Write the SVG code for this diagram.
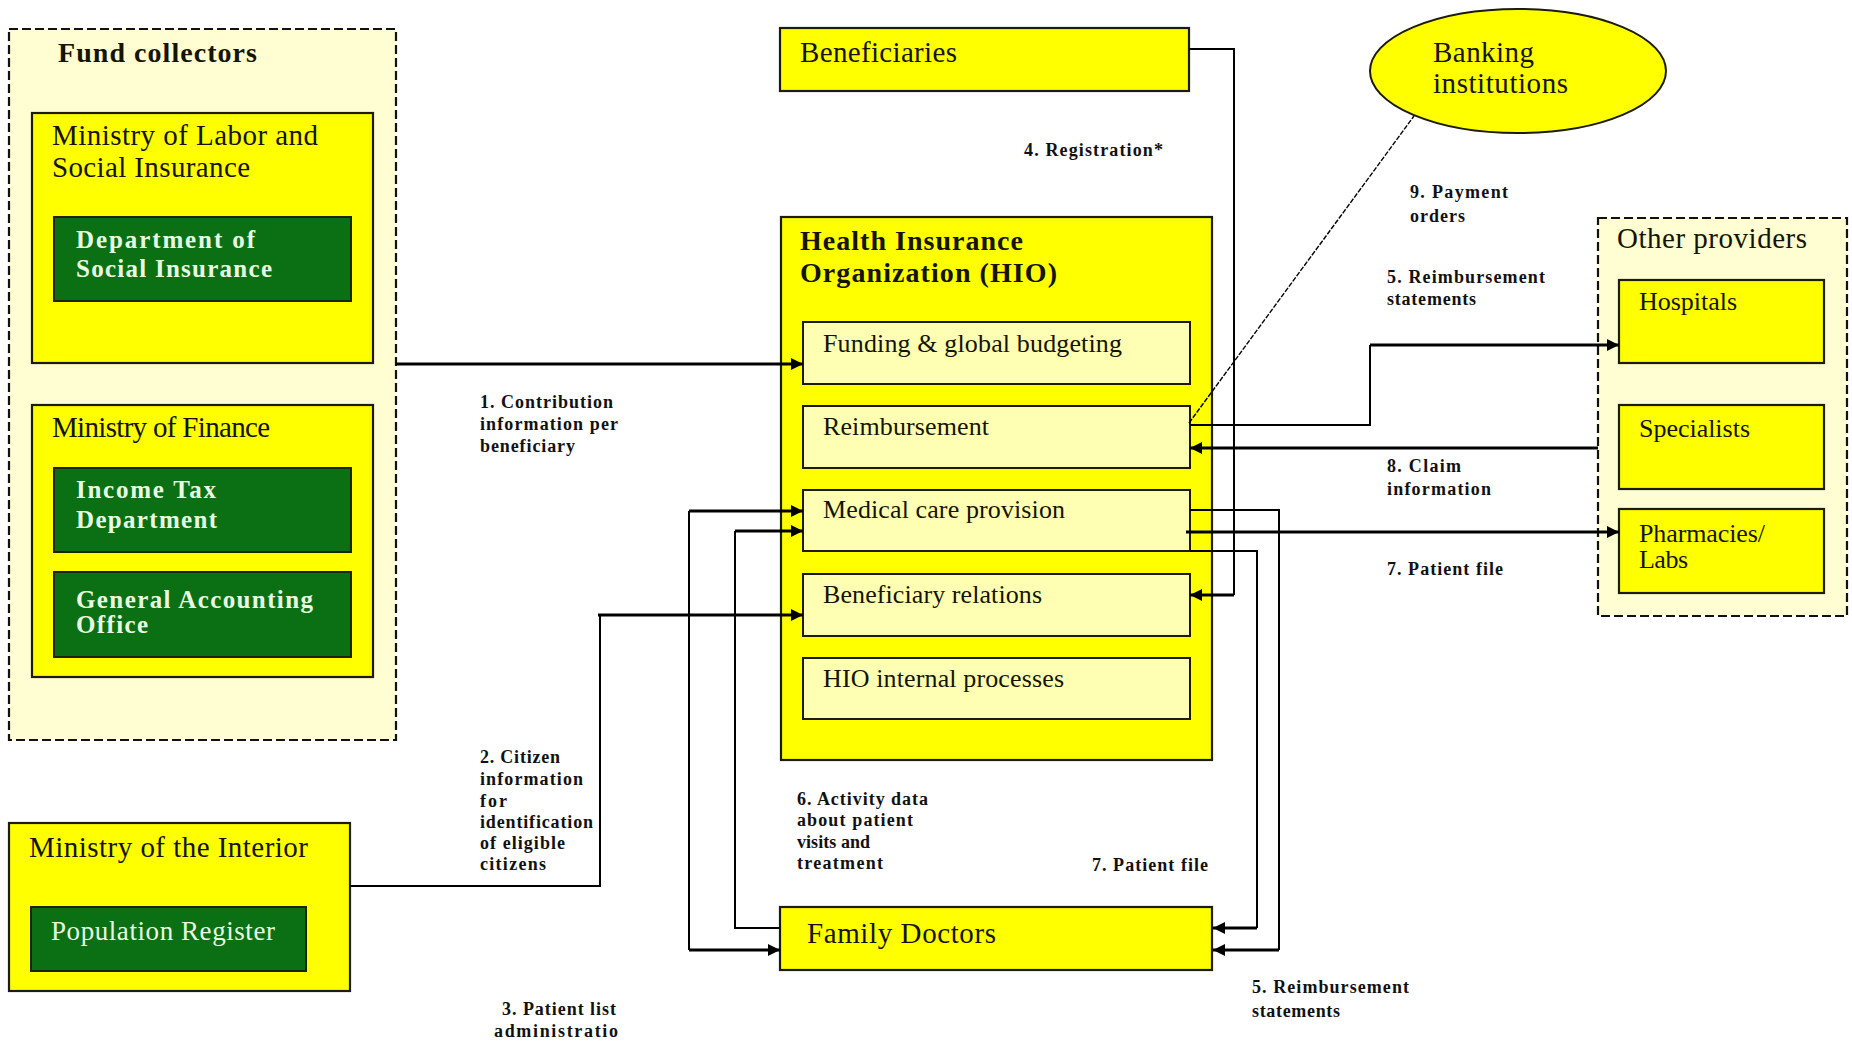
<svg xmlns="http://www.w3.org/2000/svg" width="1852" height="1041" viewBox="0 0 1852 1041">
<defs>
<marker id="ah" viewBox="0 0 10 10" refX="10" refY="5" markerUnits="userSpaceOnUse" markerWidth="14" markerHeight="12" orient="auto-start-reverse">
<path d="M0,0 L10,5 L0,10 z" fill="#000"/>
</marker>
<style>
text{font-family:"Liberation Serif","Times New Roman",serif;fill:#141400}
.t{font-size:29px}
.h{font-size:28px;font-weight:bold}
.g{font-size:25px;font-weight:bold;fill:#e8fce2}
.gn{font-size:27px;fill:#e8fce2}
.s{font-size:26px}
.l{font-size:18px;font-weight:bold;fill:#111}
.dash{fill:#fffdd1;stroke:#111;stroke-width:2.2;stroke-dasharray:9 4}
.y{fill:#ffff00;stroke:#1b1b10;stroke-width:2.2}
.gr{fill:#0b6f14;stroke:#1b2410;stroke-width:2}
.sub{fill:#ffffb4;stroke:#1b1b10;stroke-width:2}
.c{fill:none;stroke:#000;stroke-width:2}
.k{fill:none;stroke:#000;stroke-width:3.2}
.d{fill:none;stroke:#000;stroke-width:1.4;stroke-dasharray:5 1.5}
</style>
</defs>
<rect width="1852" height="1041" fill="#fff"/>

<g id="fund-collectors">
<rect class="dash" x="9" y="29" width="387" height="711"/>
<text class="h" x="58" y="62" textLength="199">Fund collectors</text>
</g>
<g id="ministry-labor">
<rect class="y" x="32" y="113" width="341" height="250"/>
<text class="t" x="52" y="145" textLength="266">Ministry of Labor and</text>
<text class="t" x="52" y="177" textLength="198">Social Insurance</text>
</g>
<g id="dept-social-insurance">
<rect class="gr" x="54" y="217" width="297" height="84"/>
<text class="g" x="76" y="248" textLength="179">Department  of</text>
<text class="g" x="76" y="277" textLength="196">Social Insurance</text>
</g>
<g id="ministry-finance">
<rect class="y" x="32" y="405" width="341" height="272"/>
<text class="t" x="52" y="437" textLength="218">Ministry of Finance</text>
</g>
<g id="income-tax">
<rect class="gr" x="54" y="468" width="297" height="84"/>
<text class="g" x="76" y="498" textLength="140">Income Tax</text>
<text class="g" x="76" y="528" textLength="141">Department</text>
</g>
<g id="general-accounting">
<rect class="gr" x="54" y="572" width="297" height="85"/>
<text class="g" x="76" y="608" textLength="237">General Accounting</text>
<text class="g" x="76" y="633" textLength="72">Office</text>
</g>
<g id="ministry-interior">
<rect class="y" x="9" y="823" width="341" height="168"/>
<text class="t" x="29" y="857" textLength="279">Ministry of the Interior</text>
</g>
<g id="population-register">
<rect class="gr" x="31" y="907" width="275" height="64"/>
<text class="gn" x="51" y="940" textLength="224">Population Register</text>
</g>
<g id="beneficiaries">
<rect class="y" x="780" y="28" width="409" height="63"/>
<text class="t" x="800" y="62" textLength="157">Beneficiaries</text>
</g>
<g id="hio">
<rect class="y" x="781" y="217" width="431" height="543"/>
<text class="h" x="800" y="250" textLength="223">Health Insurance</text>
<text class="h" x="800" y="282" textLength="257">Organization (HIO)</text>
</g>
<g id="funding">
<rect class="sub" x="803" y="322" width="387" height="62"/>
<text class="s" x="823" y="352" textLength="299">Funding &amp; global budgeting</text>
</g>
<g id="reimbursement">
<rect class="sub" x="803" y="406" width="387" height="62"/>
<text class="s" x="823" y="435" textLength="166">Reimbursement</text>
</g>
<g id="medical-care">
<rect class="sub" x="803" y="490" width="387" height="61"/>
<text class="s" x="823" y="518" textLength="242">Medical care provision</text>
</g>
<g id="beneficiary-relations">
<rect class="sub" x="803" y="574" width="387" height="62"/>
<text class="s" x="823" y="603" textLength="219">Beneficiary relations</text>
</g>
<g id="hio-internal">
<rect class="sub" x="803" y="658" width="387" height="61"/>
<text class="s" x="823" y="687" textLength="241">HIO internal processes</text>
</g>
<g id="family-doctors">
<rect class="y" x="780" y="907" width="432" height="63"/>
<text class="t" x="807" y="943" textLength="189">Family Doctors</text>
</g>
<g id="banking">
<ellipse cx="1518" cy="71" rx="148" ry="62" fill="#ffff00" stroke="#1b1b10" stroke-width="2"/>
<text class="t" x="1433" y="62" textLength="101">Banking</text>
<text class="t" x="1433" y="93" textLength="135">institutions</text>
</g>
<g id="other-providers">
<rect class="dash" x="1598" y="218" width="249" height="398"/>
<text class="t" x="1617" y="248" textLength="190">Other providers</text>
</g>
<g id="hospitals">
<rect class="y" x="1619" y="280" width="205" height="83"/>
<text class="s" x="1639" y="310" textLength="98">Hospitals</text>
</g>
<g id="specialists">
<rect class="y" x="1619" y="405" width="205" height="84"/>
<text class="s" x="1639" y="437" textLength="111">Specialists</text>
</g>
<g id="pharmacies">
<rect class="y" x="1619" y="509" width="205" height="84"/>
<text class="s" x="1639" y="542" textLength="126">Pharmacies/</text>
<text class="s" x="1639" y="568" textLength="49">Labs</text>
</g>

<g id="connectors">
<path class="k" d="M396,364 H803" marker-end="url(#ah)"/>
<path class="c" d="M350,886 H600 V615"/>
<path class="k" d="M598,615 H803" marker-end="url(#ah)"/>
<path class="c" d="M689,511 V950"/>
<path class="k" d="M689,511 H803" marker-end="url(#ah)"/>
<path class="k" d="M689,950 H780" marker-end="url(#ah)"/>
<path class="c" d="M780,928 H735 V531"/>
<path class="k" d="M735,531 H803" marker-end="url(#ah)"/>
<path class="c" d="M1189,49 H1234 V595"/>
<path class="k" d="M1234,595 H1190" marker-end="url(#ah)"/>
<path class="d" d="M1189,423 L1414,116"/>
<path class="c" d="M1190,425 H1370 V345"/>
<path class="k" d="M1370,345 H1619" marker-end="url(#ah)"/>
<path class="k" d="M1598,448 H1190" marker-end="url(#ah)"/>
<path class="k" d="M1186,532 H1619" marker-end="url(#ah)"/>
<path class="c" d="M1190,551 H1257 V928"/>
<path class="k" d="M1257,928 H1213" marker-end="url(#ah)"/>
<path class="c" d="M1190,510 H1279 V950"/>
<path class="k" d="M1279,950 H1213" marker-end="url(#ah)"/>
</g>

<g id="labels">
<text class="l" x="480" y="408" textLength="133">1. Contribution</text>
<text class="l" x="480" y="430" textLength="138">information per</text>
<text class="l" x="480" y="452" textLength="95">beneficiary</text>
<text class="l" x="480" y="763" textLength="80">2. Citizen</text>
<text class="l" x="480" y="785" textLength="103">information</text>
<text class="l" x="480" y="807" textLength="27">for</text>
<text class="l" x="480" y="828" textLength="113">identification</text>
<text class="l" x="480" y="849" textLength="85">of eligible</text>
<text class="l" x="480" y="870" textLength="66">citizens</text>
<text class="l" x="502" y="1015" textLength="114">3. Patient list</text>
<text class="l" x="494" y="1037" textLength="124">administratio</text>
<text class="l" x="1024" y="156" textLength="139">4. Registration*</text>
<text class="l" x="1410" y="198" textLength="98">9. Payment</text>
<text class="l" x="1410" y="222" textLength="55">orders</text>
<text class="l" x="1387" y="283" textLength="158">5. Reimbursement</text>
<text class="l" x="1387" y="305" textLength="89">statements</text>
<text class="l" x="1387" y="472" textLength="74">8. Claim</text>
<text class="l" x="1387" y="495" textLength="104">information</text>
<text class="l" x="1387" y="575" textLength="116">7. Patient file</text>
<text class="l" x="797" y="805" textLength="131">6. Activity data</text>
<text class="l" x="797" y="826" textLength="116">about patient</text>
<text class="l" x="797" y="848" textLength="73">visits and</text>
<text class="l" x="797" y="869" textLength="86">treatment</text>
<text class="l" x="1092" y="871" textLength="116">7. Patient file</text>
<text class="l" x="1252" y="993" textLength="157">5. Reimbursement</text>
<text class="l" x="1252" y="1017" textLength="88">statements</text>
</g>
</svg>
